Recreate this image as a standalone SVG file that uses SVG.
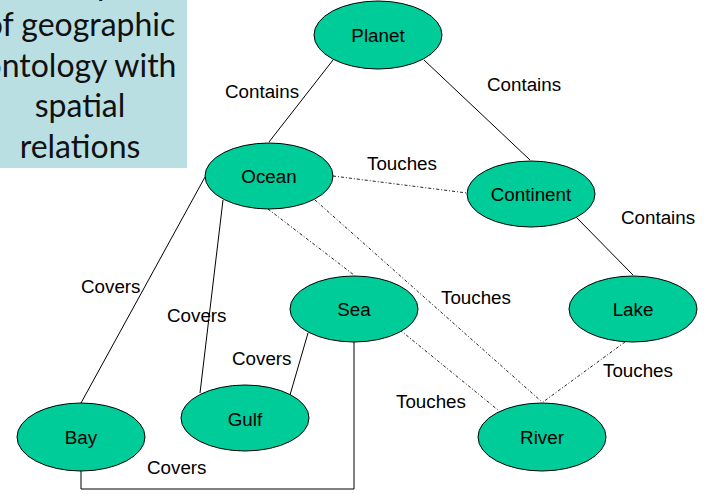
<svg xmlns="http://www.w3.org/2000/svg" width="709" height="494" viewBox="0 0 709 494">
  <defs>
    <style>
      .node ellipse { fill: #00cc99; stroke: #000; stroke-width: 1; }
      .node text, .lbl { font-family: "Liberation Sans", Arial, sans-serif; font-size: 18.8px; fill: #000; }
      .node text { text-anchor: middle; }
      .solid { fill: none; stroke: #000; stroke-width: 1; }
      .touch { fill: none; stroke: #222; stroke-width: 1; stroke-dasharray: 3 2 1 2; }
      .title { font-family: Lato, "Open Sans", sans-serif; font-size: 32px; fill: #111; text-anchor: middle; }
    </style>
  </defs>
  <rect width="709" height="494" fill="#fff"/>

  <!-- title panel -->
  <g id="title">
    <rect x="-30" y="-10" width="217" height="178" fill="#badfe3"/>
    <text class="title" x="80" y="-5">Example</text>
    <text class="title" x="80" y="36">of geographic</text>
    <text class="title" x="80" y="77">ontology with</text>
    <text class="title" x="80" y="117">spatial</text>
    <text class="title" x="80" y="158">relations</text>
  </g>

  <!-- connectors -->
  <g id="connectors">
    <line class="solid" x1="333" y1="60" x2="269" y2="142"/>
    <line class="solid" x1="424" y1="60" x2="530" y2="160"/>
    <line class="solid" x1="576" y1="217" x2="633" y2="275"/>
    <line class="solid" x1="205" y1="177" x2="81" y2="403"/>
    <line class="solid" x1="223" y1="200" x2="200" y2="393"/>
    <line class="solid" x1="308" y1="333" x2="290" y2="395"/>
    <polyline class="solid" points="354,342 354,489 81,489 81,471"/>
    <line class="touch" x1="333" y1="176" x2="467" y2="193"/>
    <line class="touch" x1="268" y1="209" x2="354" y2="275"/>
    <line class="touch" x1="315" y1="200" x2="542" y2="402"/>
    <line class="touch" x1="400" y1="330" x2="498" y2="410"/>
    <line class="touch" x1="625" y1="342" x2="543" y2="402"/>

    <text class="lbl" x="225" y="98">Contains</text>
    <text class="lbl" x="487" y="91">Contains</text>
    <text class="lbl" x="621" y="224">Contains</text>
    <text class="lbl" x="367" y="170">Touches</text>
    <text class="lbl" x="441" y="304">Touches</text>
    <text class="lbl" x="603" y="377">Touches</text>
    <text class="lbl" x="396" y="408">Touches</text>
    <text class="lbl" x="81" y="293">Covers</text>
    <text class="lbl" x="167" y="322">Covers</text>
    <text class="lbl" x="232" y="365">Covers</text>
    <text class="lbl" x="147" y="474">Covers</text>
  </g>

  <!-- nodes -->
  <g id="planet" class="node"><ellipse cx="378" cy="35" rx="64" ry="34"/><text x="378" y="42">Planet</text></g>
  <g id="ocean" class="node"><ellipse cx="269" cy="176" rx="64" ry="33"/><text x="269" y="183">Ocean</text></g>
  <g id="continent" class="node"><ellipse cx="531" cy="194" rx="64" ry="33"/><text x="531" y="201">Continent</text></g>
  <g id="sea" class="node"><ellipse cx="354" cy="309" rx="64" ry="33"/><text x="354" y="316">Sea</text></g>
  <g id="lake" class="node"><ellipse cx="633" cy="309" rx="64" ry="33"/><text x="633" y="316">Lake</text></g>
  <g id="gulf" class="node"><ellipse cx="245" cy="418" rx="64" ry="33"/><text x="245" y="426">Gulf</text></g>
  <g id="bay" class="node"><ellipse cx="81" cy="437" rx="64" ry="34"/><text x="81" y="444">Bay</text></g>
  <g id="river" class="node"><ellipse cx="542" cy="437" rx="64" ry="34"/><text x="542" y="444">River</text></g>
</svg>
